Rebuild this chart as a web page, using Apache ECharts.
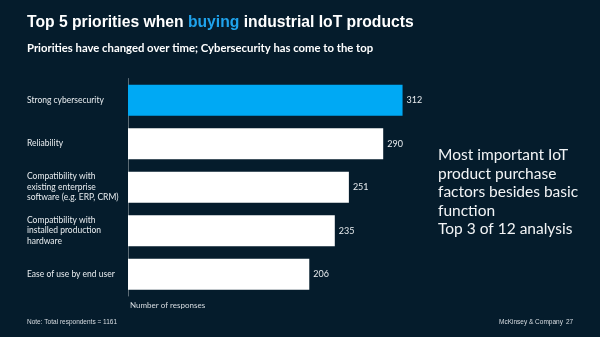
<!DOCTYPE html>
<html><head><meta charset="utf-8">
<script src="https://cdn.jsdelivr.net/npm/echarts@6/dist/echarts.min.js"></script>
<style>html,body{margin:0;padding:0;background:#051c2c}#c{width:600px;height:337px}</style>
</head><body><div id="c"></div>
<script>
const categories = ['Strong cybersecurity','Reliability','Compatibility with\nexisting enterprise\nsoftware (e.g. ERP, CRM)','Compatibility with\ninstalled production\nhardware','Ease of use by end user'];
const values = [312, 290, 251, 235, 206];
const xTicks = [0, 400];
const sideNote = ['Most important IoT','product purchase','factors besides basic','function','Top 3 of 12 analysis'];

const chart = echarts.init(document.getElementById('c'), null, {renderer:'canvas'});
const font = 'Lato, "Open Sans", sans-serif';
chart.setOption({
  backgroundColor:'#051c2c',
  animation:false,
  title:[{
    text:'{a|Top 5 priorities when }{b|buying}{a| industrial IoT products}',
    left:27, top:15, padding:0,
    textStyle:{rich:{
      a:{fontFamily:'Arial, "Liberation Sans", sans-serif',fontWeight:'bold',fontSize:15.7,color:'#ffffff'},
      b:{fontFamily:'Arial, "Liberation Sans", sans-serif',fontWeight:'bold',fontSize:15.7,color:'#1fa3ec'}
    }}
  },{
    text:'Priorities have changed over time; Cybersecurity has come to the top',
    left:27, top:42.5, padding:0,
    textStyle:{fontFamily:font,fontWeight:'bold',fontSize:11.3,color:'#ffffff'}
  }],
  grid:{left:128, right:120, top:78.5, bottom:41, containLabel:false},
  xAxis:{type:'value', min:xTicks[0], max:xTicks[1], show:false},
  yAxis:{type:'category', data:categories, inverse:true,
    axisLine:{show:true, lineStyle:{color:'rgba(255,255,255,0.35)',width:1}},
    axisTick:{show:false},
    axisLabel:{align:'left', margin:101, color:'#e8ecef', fontFamily:font, fontSize:8.5, lineHeight:10.5}
  },
  series:[{
    type:'bar', data:values, barWidth:31,
    itemStyle:{color:p => p.dataIndex===0 ? '#00a9f4' : '#ffffff'},
    label:{show:true, position:'right', distance:4, color:'#e8ecef', fontFamily:font, fontSize:9}
  }],
  graphic:[
    {type:'text', left:130, top:301, style:{text:'Number of responses', fill:'#d8dde2', font:'8px '+font}},
    {type:'text', left:27, top:319, style:{text:'Note: Total respondents = 1161', fill:'#d8dde2', font:'6.5px Arial, "Liberation Sans", sans-serif'}},
    {type:'text', left:499, top:319, style:{text:'McKinsey & Company', fill:'#d8dde2', font:'6.5px Arial, "Liberation Sans", sans-serif'}},
    {type:'text', left:566, top:319, style:{text:'27', fill:'#d8dde2', font:'6.5px Arial, "Liberation Sans", sans-serif'}},
    {type:'text', left:438, top:146, style:{text:sideNote.join('\n'), fill:'#f2f4f6', font:'15.5px '+font, lineHeight:18.5}}
  ]
});
</script></body></html>
